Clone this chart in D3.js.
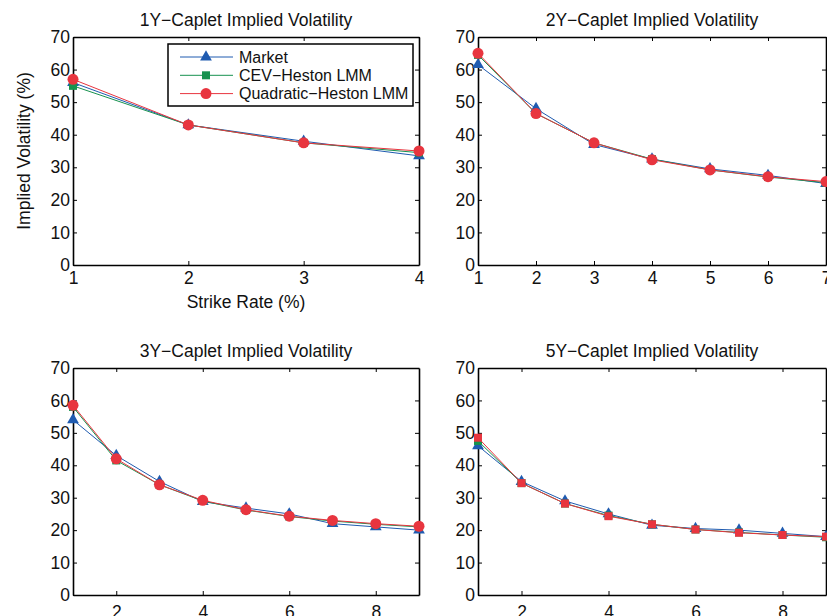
<!DOCTYPE html>
<html>
<head>
<meta charset="utf-8">
<script src="https://cdn.jsdelivr.net/npm/d3@7"></script>
<style>
  body { margin: 0; background: #fff; }
  svg { font-family: "Liberation Sans", Arial, sans-serif; }
</style>
</head>
<body>
<svg id="chart" width="827" height="616"></svg>
<script>
// -- Data -- //
const seriesNames = ["Market", "CEV\u2212Heston LMM", "Quadratic\u2212Heston LMM"];
const titles = ["1Y\u2212Caplet Implied Volatility", "2Y\u2212Caplet Implied Volatility",
                "3Y\u2212Caplet Implied Volatility", "5Y\u2212Caplet Implied Volatility"];
const strikes1Y = [1, 2, 3, 4];
const strikes2Y = [1, 2, 3, 4, 5, 6, 7];
const strikes3Y = [1, 2, 3, 4, 5, 6, 7, 8, 9];
const strikes5Y = [1, 2, 3, 4, 5, 6, 7, 8, 9];
const market1Y = [56, 43, 38, 33.5];
const cev1Y    = [55, 43, 37.5, 34.5];
const quad1Y   = [57, 43, 37.5, 35];
const market2Y = [61.5, 48, 37, 32.5, 29.5, 27.5, 25];
const cev2Y    = [64.5, 46.5, 37.5, 32.5, 29.2, 27, 25.3];
const quad2Y   = [65, 46.5, 37.5, 32.3, 29.2, 27.1, 25.6];
const market3Y = [54, 43, 35, 28.8, 26.8, 25, 22, 21, 20];
const cev3Y    = [58, 41.5, 34, 29, 26.2, 24.2, 22.8, 21.8, 21];
const quad3Y   = [58.5, 42, 34, 29.2, 26.3, 24.3, 23, 22, 21.2];
const market5Y = [46, 35, 29, 25, 21.5, 20.5, 20, 19, 18];
const cev5Y    = [47.5, 34.5, 28.2, 24.5, 21.8, 20.2, 19.3, 18.5, 17.8];
const quad5Y   = [48.5, 34.5, 28.2, 24.3, 21.8, 20.2, 19.2, 18.5, 18];
const yTicks = [0, 10, 20, 30, 40, 50, 60, 70];

// -- Styles -- //
const colours = ["#1f5bb0", "#17924f", "#e8353f"];
const fontSize = 17.5;

const panels = [
  {title: titles[0], x: strikes1Y, series: [market1Y, cev1Y, quad1Y], xTicks: [1, 2, 3, 4],
   box: {l: 73, r: 419, t: 37, b: 265}, pad: 7, legend: true, ylabel: true, xlabel: true,
   markers: ["triangle", "square", "circle"]},
  {title: titles[1], x: strikes2Y, series: [market2Y, cev2Y, quad2Y], xTicks: [1, 2, 3, 4, 5, 6, 7],
   box: {l: 478, r: 826, t: 37, b: 265}, pad: 7, markers: ["triangle", "square", "circle"]},
  {title: titles[2], x: strikes3Y, series: [market3Y, cev3Y, quad3Y], xTicks: [2, 4, 6, 8],
   box: {l: 73, r: 419, t: 368, b: 595}, pad: 11, markers: ["triangle", "square", "circle"]},
  {title: titles[3], x: strikes5Y, series: [market5Y, cev5Y, quad5Y], xTicks: [2, 4, 6, 8],
   box: {l: 478, r: 826, t: 368, b: 595}, pad: 11, markers: ["triangle", "square", "square"]},
];

const svg = d3.select("#chart");

panels.forEach(drawPanel);

function markerPath(type) {
  if (type === "triangle") return d3.symbol().type(d3.symbolTriangle).size(60)();
  if (type === "square") return d3.symbol().type(d3.symbolSquare).size(64)();
  return d3.symbol().type(d3.symbolCircle).size(95)();
}

function drawPanel(p) {
  const b = p.box;
  const x = d3.scaleLinear().domain(d3.extent(p.x)).range([b.l, b.r]);
  const y = d3.scaleLinear().domain([0, 70]).range([b.b, b.t]);
  const g = svg.append("g");

  // Axes (MATLAB style, inward ticks on all sides)
  const tl = 4;
  g.append("g").attr("transform", `translate(0,${b.b})`)
    .call(d3.axisBottom(x).tickValues(p.xTicks).tickFormat(d3.format("d")).tickSizeInner(-tl).tickSizeOuter(0).tickPadding(p.pad));
  g.append("g").attr("transform", `translate(0,${b.t})`)
    .call(d3.axisTop(x).tickValues(p.xTicks).tickFormat("").tickSizeInner(-tl).tickSizeOuter(0));
  g.append("g").attr("transform", `translate(${b.l},0)`)
    .call(d3.axisLeft(y).tickValues(yTicks).tickFormat(d3.format("d")).tickSizeInner(-tl).tickSizeOuter(0).tickPadding(3));
  g.append("g").attr("transform", `translate(${b.r},0)`)
    .call(d3.axisRight(y).tickValues(yTicks).tickFormat("").tickSizeInner(-tl).tickSizeOuter(0));
  g.selectAll(".domain").attr("stroke", "#000").attr("stroke-width", 1.6);
  g.selectAll(".tick line").attr("stroke", "#000").attr("stroke-width", 1);
  g.selectAll(".tick text").attr("font-size", fontSize).attr("fill", "#111")
    .attr("font-family", "'Liberation Sans', Arial, sans-serif");

  // Title
  g.append("text").attr("x", (b.l + b.r) / 2).attr("y", b.t - 11)
    .attr("text-anchor", "middle").attr("font-size", fontSize).attr("fill", "#111").text(p.title);

  if (p.ylabel) {
    g.append("text").attr("transform", `translate(30,${(b.t + b.b) / 2}) rotate(-90)`)
      .attr("text-anchor", "middle").attr("font-size", fontSize).attr("fill", "#111")
      .text("Implied Volatility (%)");
  }
  if (p.xlabel) {
    g.append("text").attr("x", (b.l + b.r) / 2).attr("y", b.b + 43)
      .attr("text-anchor", "middle").attr("font-size", fontSize).attr("fill", "#111")
      .text("Strike Rate (%)");
  }

  // Series lines and markers
  const line = d3.line().x((d, i) => x(p.x[i])).y(d => y(d));
  p.series.forEach((s, k) => {
    g.append("path").datum(s).attr("d", line).attr("fill", "none")
      .attr("stroke", colours[k]).attr("stroke-width", 1);
    g.append("g").selectAll("path").data(s).join("path")
      .attr("transform", (d, i) => `translate(${x(p.x[i])},${y(d)})`)
      .attr("d", markerPath(p.markers[k]))
      .attr("fill", colours[k]);
  });

  if (p.legend) drawLegend(g);
}

function drawLegend(g) {
  const lx = 168, ly = 44, lw = 245, lh = 62;
  const lg = g.append("g");
  lg.append("rect").attr("x", lx).attr("y", ly).attr("width", lw).attr("height", lh)
    .attr("fill", "#fff").attr("stroke", "#000").attr("stroke-width", 1.5);
  const mk = ["triangle", "square", "circle"];
  seriesNames.forEach((name, k) => {
    const yy = ly + 13 + k * 18.3;
    lg.append("line").attr("x1", lx + 12).attr("x2", lx + 65).attr("y1", yy).attr("y2", yy)
      .attr("stroke", colours[k]).attr("stroke-width", 1);
    lg.append("path").attr("transform", `translate(${lx + 38},${yy})`)
      .attr("d", markerPath(mk[k])).attr("fill", colours[k]);
    lg.append("text").attr("x", lx + 71).attr("y", yy + 5.5).attr("font-size", 16)
      .attr("fill", "#111").text(name);
  });
}
</script>
</body>
</html>
